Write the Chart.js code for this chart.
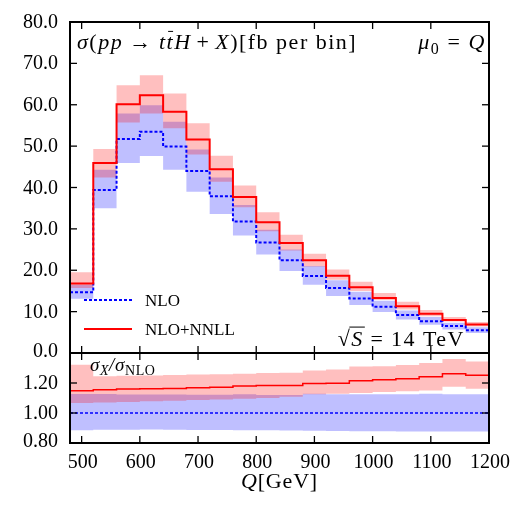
<!DOCTYPE html>
<html>
<head>
<meta charset="utf-8">
<script src="https://cdn.jsdelivr.net/npm/chart.js@4.4.1/dist/chart.umd.min.js"></script>
<style>
  body { margin: 0; background: #fff; }
  #wrap { position: relative; width: 519px; height: 505px; }
  #mainChart { position: absolute; left: 0; top: 0; }
  #ratioChart { position: absolute; left: 0; top: 345px; }
</style>
</head>
<body>
<div id="wrap">
  <canvas id="mainChart" width="519" height="375"></canvas>
  <canvas id="ratioChart" width="519" height="160"></canvas>
</div>
<script>
// Datos (bins de 40 GeV)
const binEdges = [480, 520, 560, 600, 640, 680, 720, 760, 800, 840, 880, 920, 960, 1000, 1040, 1080, 1120, 1160, 1200];
const seriesNames = ["NLO", "NLO+NNLL"];

const nlo    = [14.7, 39.4, 51.7, 53.5, 49.9, 44.0, 37.9, 31.8, 26.7, 22.4, 18.6, 15.7, 13.2, 11.2, 9.2, 7.7, 6.5, 5.5];
const nloHi  = [16.5, 44.3, 57.9, 59.9, 55.9, 49.2, 42.4, 35.8, 29.8, 25.0, 21.0, 17.6, 14.8, 12.6, 10.3, 8.7, 7.3, 6.2];
const nloLo  = [13.1, 35.0, 45.9, 47.6, 44.3, 39.0, 33.6, 28.4, 23.8, 19.8, 16.5, 13.8, 11.6, 9.9, 8.1, 6.8, 5.7, 4.85];
const nnll   = [16.8, 45.9, 60.1, 62.3, 58.3, 51.6, 44.4, 37.7, 31.6, 26.6, 22.4, 18.7, 15.9, 13.3, 11.3, 9.5, 8.0, 6.9];
const nnllHi = [19.5, 49.3, 64.7, 67.1, 62.7, 55.5, 47.7, 40.5, 34.0, 28.6, 24.0, 20.2, 17.2, 14.5, 12.4, 10.4, 8.7, 7.5];
const nnllLo = [15.7, 42.4, 55.7, 57.9, 54.3, 48.0, 41.4, 35.2, 29.4, 24.8, 20.9, 17.7, 15.0, 12.8, 10.5, 8.9, 7.6, 6.4];

// Panel de cocientes sigma_X / sigma_NLO
const ratioNlo    = [1, 1, 1, 1, 1, 1, 1, 1, 1, 1, 1, 1, 1, 1, 1, 1, 1, 1];
const ratioNloHi  = [1.127, 1.126, 1.124, 1.124, 1.124, 1.122, 1.122, 1.125, 1.12, 1.12, 1.128, 1.125, 1.125, 1.125, 1.125, 1.128, 1.125, 1.125];
const ratioNloLo  = [0.885, 0.888, 0.888, 0.89, 0.888, 0.886, 0.887, 0.885, 0.885, 0.884, 0.882, 0.88, 0.878, 0.878, 0.877, 0.877, 0.876, 0.876];
const ratioNnll   = [1.149, 1.155, 1.160, 1.162, 1.164, 1.169, 1.171, 1.180, 1.183, 1.183, 1.197, 1.199, 1.215, 1.222, 1.229, 1.242, 1.262, 1.251];
const ratioNnllHi = [1.322, 1.245, 1.248, 1.250, 1.253, 1.256, 1.259, 1.262, 1.266, 1.268, 1.284, 1.290, 1.310, 1.312, 1.320, 1.333, 1.360, 1.344];
const ratioNnllLo = [1.067, 1.070, 1.074, 1.078, 1.082, 1.086, 1.090, 1.095, 1.100, 1.108, 1.125, 1.128, 1.133, 1.140, 1.145, 1.150, 1.175, 1.162];

// Marcas de los ejes
const xTicks = [500, 600, 700, 800, 900, 1000, 1100, 1200];
const yTicksMain = [0, 10, 20, 30, 40, 50, 60, 70, 80];
const yTicksRatio = [0.8, 1.0, 1.2];

const SERIF = "'Liberation Serif', 'DejaVu Serif', serif";
const RED = "#ff0000";
const BLUE = "#0000ff";
const RED_BAND = "rgba(255, 0, 0, 0.25)";
const BLUE_BAND = "rgba(0, 0, 255, 0.25)";

// histograma -> puntos para línea escalonada
function steps(vals) {
  return binEdges.map((e, i) => ({ x: e, y: vals[Math.min(i, vals.length - 1)] }));
}

function bandDatasets(hi, lo, color, order) {
  return [
    { data: steps(hi), stepped: true, fill: "+1", backgroundColor: color, borderColor: "transparent", borderWidth: 0, pointRadius: 0, order: order },
    { data: steps(lo), stepped: true, fill: false, borderColor: "transparent", borderWidth: 0, pointRadius: 0, order: order }
  ];
}

// texto con partes en cursiva / subíndice / barra; un número = espacio en em
function drawRich(ctx, parts, x, y, size, align, spacing) {
  const fontOf = (st) => {
    const sub = st.includes("s");
    const it = st.includes("i");
    return (it ? "italic " : "") + (sub ? Math.round(size * 0.72) : size) + "px " + SERIF;
  };
  ctx.letterSpacing = (spacing || 0) + "px";
  let total = 0;
  const widths = parts.map(p => {
    if (typeof p === "number") { total += p * size; return p * size; }
    ctx.font = fontOf(p[1]);
    const w = ctx.measureText(p[0]).width;
    total += w;
    return w;
  });
  let cx = align === "right" ? x - total : align === "center" ? x - total / 2 : x;
  ctx.fillStyle = "#000";
  ctx.strokeStyle = "#000";
  ctx.textBaseline = "alphabetic";
  ctx.textAlign = "left";
  parts.forEach((p, i) => {
    if (typeof p === "number") { cx += widths[i]; return; }
    ctx.font = fontOf(p[1]);
    const dy = p[1].includes("s") ? size * 0.22 : 0;
    ctx.fillText(p[0], cx, y + dy);
    if (p[1].includes("b")) { // barra sobre la letra
      ctx.lineWidth = 1;
      ctx.beginPath();
      ctx.moveTo(cx + widths[i] * 0.2, y - size * 0.8);
      ctx.lineTo(cx + widths[i] * 0.85, y - size * 0.8);
      ctx.stroke();
    }
    if (p[1].includes("o")) { // raíz
      ctx.lineWidth = 1;
      ctx.beginPath();
      ctx.moveTo(cx - 2, y - size * 0.86);
      ctx.lineTo(cx + widths[i] + 1, y - size * 0.86);
      ctx.stroke();
    }
    cx += widths[i];
  });
  ctx.letterSpacing = "0px";
}

// caja, marcas hacia adentro y etiquetas de los ejes
const framePlugin = {
  id: "frame",
  afterDatasetsDraw(chart, args, opts) {
    const { ctx, chartArea: a, scales } = chart;
    const line = (x1, y1, x2, y2) => { ctx.beginPath(); ctx.moveTo(x1, y1); ctx.lineTo(x2, y2); ctx.stroke(); };
    ctx.save();
    ctx.strokeStyle = "#000";
    ctx.fillStyle = "#000";
    ctx.lineWidth = 1.3;
    ctx.font = "20px " + SERIF;
    ctx.textBaseline = "alphabetic";
    xTicks.forEach(v => {
      const px = scales.x.getPixelForValue(v);
      line(px, a.bottom, px, a.bottom - 7);
      line(px, a.top, px, a.top + 7);
      if (opts.xLabels) {
        ctx.textAlign = "center";
        ctx.fillText(String(v), px + 1, a.bottom + 25);
      }
    });
    opts.yTicks.forEach(v => {
      const py = scales.y.getPixelForValue(v);
      line(a.left, py, a.left + 7, py);
      line(a.right, py, a.right - 7, py);
      ctx.textAlign = "right";
      ctx.fillText(v.toFixed(opts.digits), a.left - 12, Math.min(py + 6, a.bottom + 4));
    });
    ctx.lineWidth = 2;
    ctx.strokeRect(a.left, a.top, a.right - a.left, a.bottom - a.top);
    ctx.restore();
  }
};

const mainText = {
  id: "mainText",
  afterDraw(chart) {
    const { ctx, chartArea: a } = chart;
    ctx.save();
    drawRich(ctx, [["σ", "i"], ["(", ""], ["pp", "i"], 0.28, ["→", ""], 0.28, ["t", "i"], ["t", "ib"], ["H", "i"], 0.22, ["+", ""], 0.22, ["X", "i"], [")[fb per bin]", ""]], a.left + 7, a.top + 27, 22, "left", 1.5);
    drawRich(ctx, [["μ", "i"], ["0", "s"], 0.33, ["=", ""], 0.33, ["Q", "i"]], a.right - 3, a.top + 27, 22, "right", 1.5);
    drawRich(ctx, [["√", ""], ["S", "io"], 0.3, ["=", ""], 0.3, ["14 TeV", ""]], a.right - 24, a.bottom - 7, 22, "right", 1.5);

    // leyenda
    const items = [
      { name: seriesNames[0], color: BLUE, dash: [3, 2], y: a.bottom - 53 },
      { name: seriesNames[1], color: RED, dash: [], y: a.bottom - 24 }
    ];
    items.forEach(it => {
      ctx.strokeStyle = it.color;
      ctx.lineWidth = 2;
      ctx.setLineDash(it.dash);
      ctx.beginPath();
      ctx.moveTo(a.left + 14, it.y);
      ctx.lineTo(a.left + 62, it.y);
      ctx.stroke();
      ctx.setLineDash([]);
      drawRich(ctx, [[it.name, ""]], a.left + 75, it.y + 6, 17, "left");
    });
    ctx.restore();
  }
};

const ratioText = {
  id: "ratioText",
  afterDraw(chart) {
    const { ctx, chartArea: a } = chart;
    ctx.save();
    drawRich(ctx, [["σ", "i"], ["X", "si"], ["/", "i"], ["σ", "i"], ["NLO", "s"]], a.left + 20, a.top + 18, 19, "left", 0.6);
    drawRich(ctx, [["Q", "i"], ["[GeV]", ""]], (a.left + a.right) / 2, a.bottom + 45, 22, "center", 0.8);
    ctx.restore();
  }
};

new Chart(document.getElementById("mainChart"), {
  type: "line",
  data: {
    datasets: [
      { label: seriesNames[1], data: steps(nnll), stepped: true, borderColor: RED, borderWidth: 2, pointRadius: 0, fill: false, order: 0 },
      { label: seriesNames[0], data: steps(nlo), stepped: true, borderColor: BLUE, borderWidth: 2, borderDash: [3, 2], pointRadius: 0, fill: false, order: 1 },
      ...bandDatasets(nnllHi, nnllLo, RED_BAND, 2),
      ...bandDatasets(nloHi, nloLo, BLUE_BAND, 3)
    ]
  },
  options: {
    responsive: false,
    animation: false,
    layout: { autoPadding: false, padding: { left: 70, right: 30, top: 22, bottom: 22 } },
    plugins: { legend: { display: false }, tooltip: { enabled: false }, frame: { yTicks: yTicksMain, digits: 1, xLabels: false } },
    scales: {
      x: { type: "linear", min: 480, max: 1200, display: false },
      y: { min: 0, max: 80, display: false }
    }
  },
  plugins: [framePlugin, mainText]
});

new Chart(document.getElementById("ratioChart"), {
  type: "line",
  data: {
    datasets: [
      { data: steps(ratioNnll), stepped: true, borderColor: RED, borderWidth: 1.5, pointRadius: 0, fill: false, order: 0 },
      { data: steps(ratioNlo), stepped: true, borderColor: BLUE, borderWidth: 1.5, borderDash: [3, 2], pointRadius: 0, fill: false, order: 1 },
      ...bandDatasets(ratioNnllHi, ratioNnllLo, RED_BAND, 2),
      ...bandDatasets(ratioNloHi, ratioNloLo, BLUE_BAND, 3)
    ]
  },
  options: {
    responsive: false,
    animation: false,
    layout: { autoPadding: false, padding: { left: 70, right: 30, top: 8, bottom: 62 } },
    plugins: { legend: { display: false }, tooltip: { enabled: false }, frame: { yTicks: yTicksRatio, digits: 2, xLabels: true } },
    scales: {
      x: { type: "linear", min: 480, max: 1200, display: false },
      y: { min: 0.8, max: 1.4, display: false }
    }
  },
  plugins: [framePlugin, ratioText]
});
</script>
</body>
</html>
